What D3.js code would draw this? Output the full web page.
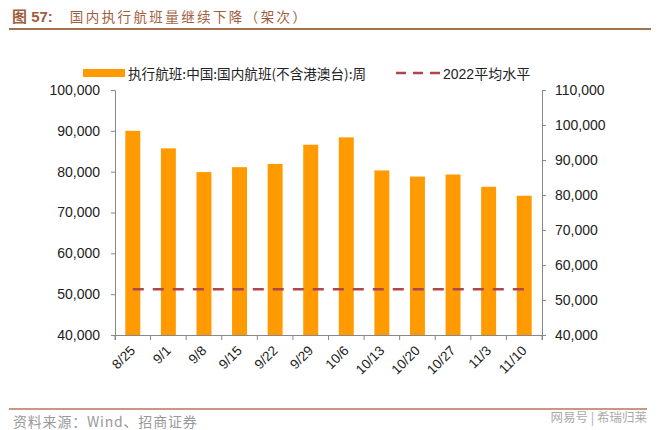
<!DOCTYPE html>
<html><head><meta charset="utf-8">
<script src="https://cdn.jsdelivr.net/npm/d3@7"></script>
<style>
html,body{margin:0;padding:0;background:#fff;}
svg{display:block;}
</style></head>
<body>
<script>
const categories = ["8/25","9/1","9/8","9/15","9/22","9/29","10/6","10/13","10/20","10/27","11/3","11/10"];
const flights = [90000,85700,79900,81100,81900,86600,88400,80300,78800,79300,76300,74100];
const avg2022 = [53100,53100,53100,53100,53100,53100,53100,53100,53100,53100,53100,53100];
const leftTicks = [40000,50000,60000,70000,80000,90000,100000];
const rightTicks = [40000,50000,60000,70000,80000,90000,100000,110000];
const seriesNames = ["执行航班:中国:国内航班(不含港澳台):周","2022平均水平"];
const titleText = ["图 57:","国内执行航班量继续下降（架次）"];
const sourceText = "资料来源：Wind、招商证券";
const watermark = "网易号 | 希瑞归莱";

const W=660,H=430;
const latin = "'Liberation Sans', Arial, 'Noto Sans CJK SC', sans-serif";
const cjk = "'Noto Sans CJK SC', 'Liberation Sans', sans-serif";
const svg = d3.select("body").append("svg").attr("width",W).attr("height",H);

const x0=115,x1=542,yTop=90,yBot=335;
const x = d3.scaleBand().domain(categories).range([x0,x1]).paddingInner(0.58).paddingOuter(0.29);
const xOuter = d3.scaleBand().domain(categories).range([x0,x1]);
const yL = d3.scaleLinear().domain([40000,100000]).range([yBot,yTop]);
const yR = d3.scaleLinear().domain([40000,110000]).range([yBot,yTop]);

// title
const t = svg.append("text").attr("x",12).attr("y",22).attr("fill","#9E5E3E").style("font-size","15px");
t.append("tspan").text(titleText[0]).attr("font-family",latin).attr("font-weight","bold");
t.append("tspan").text(titleText[1]).attr("dx",17).attr("font-family",cjk).style("font-size","13.5px").attr("letter-spacing","2.4px");
svg.append("line").attr("x1",9).attr("x2",651).attr("y1",29).attr("y2",29).attr("stroke","#A5704E").attr("stroke-width",2);

// legend
svg.append("rect").attr("x",83).attr("y",69).attr("width",42).attr("height",8).attr("fill","#FF9A00");
svg.append("text").attr("x",128).attr("y",79).text(seriesNames[0]).attr("font-family",cjk).style("font-size","13.6px").attr("fill","#222");
svg.append("line").attr("x1",396).attr("x2",441).attr("y1",73).attr("y2",73).attr("stroke","#B0454A").attr("stroke-width",2.5).attr("stroke-dasharray","10,7");
svg.append("text").attr("x",443).attr("y",79).text(seriesNames[1]).attr("font-family",latin).style("font-size","14px").attr("fill","#222");

// bars
svg.append("g").selectAll("rect").data(flights).join("rect")
  .attr("x",(d,i)=>x(categories[i])).attr("width",x.bandwidth())
  .attr("y",d=>yL(d)).attr("height",d=>yBot-yL(d)).attr("fill","#FF9A00");

// dashed average line (secondary axis)
const line = d3.line().x((d,i)=>xOuter(categories[i])+xOuter.bandwidth()/2).y(d=>yR(d));
svg.append("path").datum(avg2022).attr("d",line).attr("fill","none")
  .attr("stroke","#B0454A").attr("stroke-width",2.5).attr("stroke-dasharray","11,9");

// axes
const fmt = d3.format(",");
const gL = svg.append("g").attr("transform",`translate(${x0},0)`)
  .call(d3.axisLeft(yL).tickValues(leftTicks).tickFormat(fmt).tickSizeOuter(0).tickSize(4));
const gR = svg.append("g").attr("transform",`translate(${x1},0)`)
  .call(d3.axisRight(yR).tickValues(rightTicks).tickFormat(fmt).tickSizeOuter(0).tickSize(4));
const gX = svg.append("g").attr("transform",`translate(0,${yBot})`)
  .call(d3.axisBottom(xOuter).tickSizeOuter(0).tickSize(5));
gX.selectAll(".tick line").attr("transform",`translate(${-xOuter.bandwidth()/2},0)`);
gX.append("line").attr("x1",x1).attr("x2",x1).attr("y1",0).attr("y2",5).attr("stroke","#888");
[gL,gR,gX].forEach(g=>{
  g.select(".domain").attr("stroke","#888");
  g.selectAll(".tick line").attr("stroke","#888");
  g.selectAll("text").attr("font-family",latin).style("font-size","14px").attr("fill","#222");
});
gL.selectAll("text").attr("x",-15);
gR.selectAll("text").attr("x",13);
gX.selectAll("text").style("font-size","13.5px").attr("text-anchor","end")
  .attr("transform","translate(0,13) rotate(-45)").attr("dy","0.35em").attr("y",0).attr("x",0);

// footer
svg.append("line").attr("x1",9).attr("x2",647).attr("y1",409).attr("y2",409).attr("stroke","#C0705C").attr("stroke-width",1.5);
svg.append("text").attr("x",13).attr("y",427).text(sourceText).attr("font-family",cjk).style("font-size","14px").attr("letter-spacing","0.8px").attr("fill","#999");
svg.append("text").attr("x",647).attr("y",422).attr("text-anchor","end").text(watermark).attr("font-family",cjk).style("font-size","12.5px").attr("fill","#aaa");
</script>
</body></html>
